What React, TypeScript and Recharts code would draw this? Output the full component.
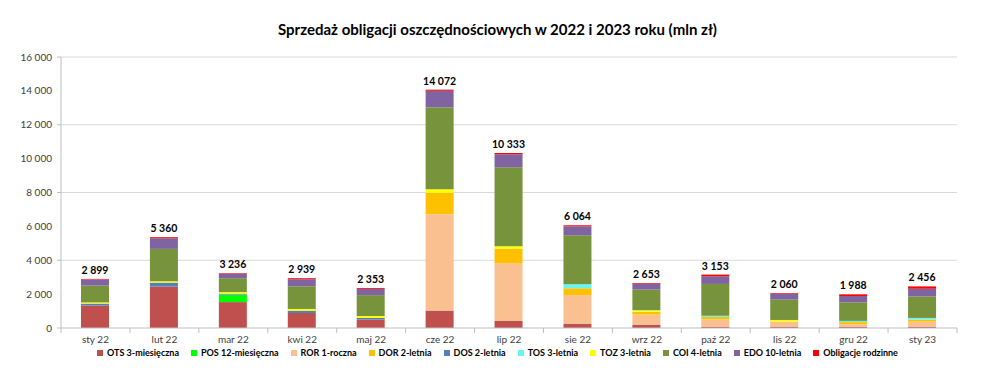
import React from "react";
import { BarChart, Bar, XAxis, YAxis, CartesianGrid, LabelList } from "recharts";

const months = ["sty 22", "lut 22", "mar 22", "kwi 22", "maj 22", "cze 22", "lip 22", "sie 22", "wrz 22", "paź 22", "lis 22", "gru 22", "sty 23"];
const totals = [2899, 5360, 3236, 2939, 2353, 14072, 10333, 6064, 2653, 3153, 2060, 1988, 2456];

const OTS = [1330, 2450, 1530, 885, 500, 1030, 413, 260, 200, 80, 80, 80, 80];
const POS = [0, 0, 420, 0, 0, 0, 0, 0, 0, 0, 0, 0, 0];
const ROR = [0, 0, 20, 0, 0, 5690, 3405, 1690, 590, 430, 295, 140, 295];
const DOR = [0, 0, 0, 0, 0, 1260, 868, 395, 160, 138, 0, 130, 120];
const DOS = [110, 230, 60, 140, 100, 0, 0, 0, 0, 0, 0, 0, 0];
const TOS = [0, 0, 0, 0, 0, 0, 0, 236, 20, 80, 0, 70, 100];
const TOZ = [70, 80, 90, 100, 110, 210, 138, 0, 80, 0, 100, 0, 0];
const COI = [990, 1910, 820, 1340, 1230, 4850, 4665, 2893, 1215, 1874, 1200, 1100, 1273];
const EDO = [370, 630, 260, 413, 363, 965, 767, 531, 348, 453, 345, 370, 450];
const ROD = [29, 60, 36, 61, 50, 67, 77, 59, 40, 98, 40, 98, 138];

const yTicks = [0, 2000, 4000, 6000, 8000, 10000, 12000, 14000, 16000];
const gridValues = [4000, 8000, 12000, 16000];

const seriesDefs = [
  { key: "ots", name: "OTS 3-miesięczna", color: "#C0504D", values: OTS },
  { key: "pos", name: "POS 12-miesięczna", color: "#00FF00", values: POS },
  { key: "ror", name: "ROR 1-roczna", color: "#FAC090", values: ROR },
  { key: "dor", name: "DOR 2-letnia", color: "#FFC000", values: DOR },
  { key: "dos", name: "DOS 2-letnia", color: "#4F81BD", values: DOS },
  { key: "tos", name: "TOS 3-letnia", color: "#66F5F0", values: TOS },
  { key: "toz", name: "TOZ 3-letnia", color: "#FFFF00", values: TOZ },
  { key: "coi", name: "COI 4-letnia", color: "#77933C", values: COI },
  { key: "edo", name: "EDO 10-letnia", color: "#8064A2", values: EDO },
  { key: "rod", name: "Obligacje rodzinne", color: "#FF0000", values: ROD },
];

const data = months.map((m, i) => {
  const row: any = { month: m, total: totals[i] };
  seriesDefs.forEach((s) => (row[s.key] = s.values[i]));
  return row;
});

const fmt = (v: number) => {
  const s = String(Math.round(v));
  return s.replace(/\B(?=(\d{3})+(?!\d))/g, " ");
};

const FONT = "Lato, 'Open Sans', sans-serif";
const PLOT_LEFT = 61;
const PLOT_RIGHT = 957;
const BAND = (PLOT_RIGHT - PLOT_LEFT) / months.length;

const YTick = (props: any) => {
  const { y, payload } = props;
  const v = payload.value;
  return (
    <g>
      {v % 4000 === 0 && <line x1={PLOT_LEFT - 4} x2={PLOT_LEFT} y1={y} y2={y} stroke="#BFBFBF" />}
      <text x={PLOT_LEFT - 9} y={y} dy={3.5} textAnchor="end" fontSize={10} fill="#404040" fontFamily={FONT}>
        {fmt(v)}
      </text>
    </g>
  );
};

const XTick = (props: any) => {
  const { x, y, payload, index } = props;
  return (
    <g>
      <line x1={x - BAND / 2} x2={x - BAND / 2} y1={y - 8} y2={y - 3} stroke="#BFBFBF" />
      {index === months.length - 1 && (
        <line x1={x + BAND / 2} x2={x + BAND / 2} y1={y - 8} y2={y - 3} stroke="#BFBFBF" />
      )}
      <text x={x} y={y} dy={7} textAnchor="middle" fontSize={10} fill="#404040" fontFamily={FONT}>
        {payload.value}
      </text>
    </g>
  );
};

const TotalLabel = (props: any) => {
  const { x, y, width, index } = props;
  return (
    <text x={x + width / 2} y={y - 5} textAnchor="middle" fontSize={10.5} fontWeight="bold" fill="#000" fontFamily={FONT}>
      {fmt(totals[index])}
    </text>
  );
};

export default function App() {
  return (
    <div style={{ position: "relative", width: 995, height: 375, background: "#fff", fontFamily: FONT }}>
      <style>{`body{margin:0;}`}</style>
      <div
        style={{
          position: "absolute",
          top: 20,
          left: 0,
          width: 995,
          textAlign: "center",
          fontSize: 15,
          fontWeight: "bold",
          color: "#000",
        }}
      >
        Sprzedaż obligacji oszczędnościowych w 2022 i 2023 roku (mln zł)
      </div>
      <BarChart
        width={995}
        height={375}
        data={data}
        margin={{ top: 57, right: 38, bottom: 27, left: 0 }}
        barSize={28}
      >
        <CartesianGrid horizontal={true} vertical={false} stroke="#D9D9D9" horizontalValues={gridValues} />
        <XAxis
          dataKey="month"
          height={20}
          stroke="#BFBFBF"
          tickLine={false}
          tick={<XTick />}
          interval={0}
        />
        <YAxis
          width={61}
          domain={[0, 16000]}
          ticks={yTicks}
          stroke="#BFBFBF"
          tickLine={false}
          tick={<YTick />}
          interval={0}
        />
        {seriesDefs.map((s, i) => (
          <Bar key={s.key} dataKey={s.key} name={s.name} stackId="a" fill={s.color} isAnimationActive={false}>
            {i === seriesDefs.length - 1 && <LabelList dataKey="total" content={<TotalLabel />} />}
          </Bar>
        ))}
      </BarChart>
      <div
        style={{
          position: "absolute",
          top: 347,
          left: 0,
          width: 995,
          display: "flex",
          justifyContent: "center",
          gap: 12,
          fontSize: 9,
          fontWeight: "bold",
          color: "#000",
        }}
      >
        {seriesDefs.map((s) => (
          <div key={s.key} style={{ display: "flex", alignItems: "center", whiteSpace: "nowrap" }}>
            <span style={{ display: "inline-block", width: 6, height: 6, background: s.color, marginRight: 4 }} />
            {s.name}
          </div>
        ))}
      </div>
    </div>
  );
}
